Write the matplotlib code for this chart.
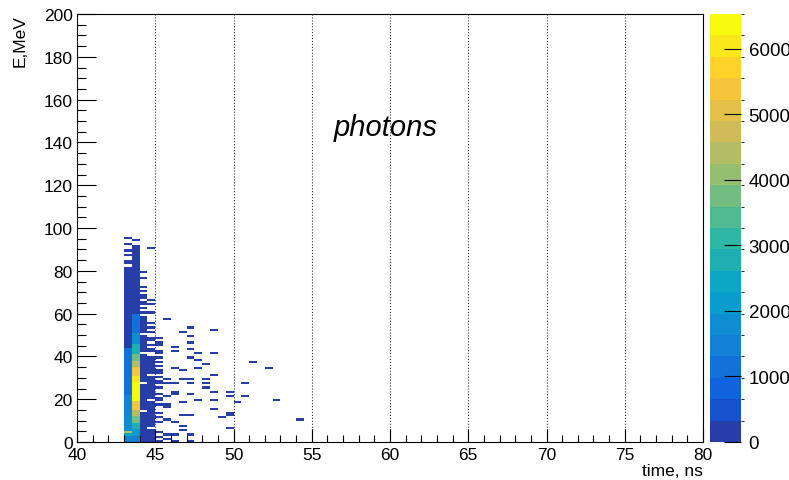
import numpy as np
import matplotlib.pyplot as plt
from matplotlib.colors import ListedColormap, BoundaryNorm, LinearSegmentedColormap

plt.rcParams['font.family'] = ['Liberation Sans', 'DejaVu Sans']

# histogram binning: time 40..80 ns in 0.5 ns bins, E 0..200 MeV in 1 MeV bins
t_min, t_max, t_step = 40.0, 80.0, 0.5
e_min, e_max, e_step = 0, 200, 1

# dense columns: (E low, E high, counts) per time bin
col_430 = [(0, 3, 1500), (3, 4, 2600), (4, 5, 4300), (5, 12, 1700), (12, 22, 1400),
           (22, 44, 1000), (44, 81, 220), (81, 82, 60), (83, 84, 60), (84, 85, 40),
           (87, 88, 60), (89, 90, 40), (92, 93, 60), (95, 96, 30)]
col_435 = [(0, 3, 1500), (3, 6, 2200), (6, 9, 2800), (9, 12, 3700), (12, 15, 4500),
           (15, 19, 5500), (19, 24, 6300), (24, 28, 6534), (28, 31, 6200), (31, 35, 5500),
           (35, 38, 4300), (38, 41, 3700), (41, 46, 2800), (46, 51, 1800), (51, 60, 1100),
           (60, 92, 260), (94, 95, 80)]
col_440 = [(0, 14, 180), (15, 27, 160), (28, 41, 140), (42, 50, 110), (51, 59, 80),
           (60, 61, 30), (62, 63, 30), (64, 65, 20), (65, 66, 30), (67, 68, 20),
           (68, 69, 30), (70, 71, 20), (72, 73, 30), (76, 77, 20), (79, 80, 20)]
col_445 = [(0, 6, 120), (7, 19, 100), (20, 31, 90), (32, 40, 70), (42, 43, 30),
           (43, 44, 20), (45, 46, 30), (47, 48, 20), (48, 49, 30), (51, 52, 20),
           (53, 54, 20), (55, 56, 20), (60, 61, 20), (64, 65, 20), (66, 67, 20),
           (90, 91, 30)]
dense_t = [43.0, 43.5, 44.0, 44.5]
dense_cols = [col_430, col_435, col_440, col_445]

# isolated single-count cells (time bin low edge, E bin low edge)
sparse_t = [45.0]*24 + [45.5]*9 + [46.0]*9 + [46.5]*7 + [47.0]*11 + [47.5]*4 \
    + [48.0]*4 + [48.5]*6 + [49.0] + [49.5]*5 + [50.0] + [50.5]*2 + [51.0] + [52.0] + [52.5] + [54.0]
sparse_e = [48, 46, 45, 42, 41, 39, 37, 35, 33, 32, 30, 28, 27, 25, 22, 20, 19, 17, 13, 11, 9, 4, 2, 0,
            57, 29, 27, 21, 17, 16, 10, 3, 1,
            44, 42, 34, 27, 23, 22, 9, 3, 0,
            51, 33, 29, 18, 12, 7, 5,
            53, 49, 46, 43, 39, 29, 27, 22, 12, 3, 0,
            41, 38, 34, 19,
            36, 29, 27, 25,
            52, 41, 31, 23, 19, 15,
            11,
            23, 21, 13, 12, 6,
            18,
            27, 21,
            37,
            34,
            19,
            10]
sparse_n = 40

t_edges = np.arange(t_min, t_max + t_step/2, t_step)
e_edges = np.arange(e_min, e_max + 1, e_step)
hist = np.zeros((len(e_edges) - 1, len(t_edges) - 1))

for t, runs in zip(dense_t, dense_cols):
    i = int(round((t - t_min) / t_step))
    for lo, hi, n in runs:
        hist[lo:hi, i] += n
for t, e in zip(sparse_t, sparse_e):
    i = int(round((t - t_min) / t_step))
    hist[e, i] += sparse_n

# ROOT kBird palette, 20 contour levels (colour picked like THistPainter does)
bird_r = [0.2082, 0.0592, 0.0780, 0.0232, 0.1802, 0.5301, 0.8186, 0.9956, 0.9764]
bird_g = [0.1664, 0.3599, 0.5041, 0.6419, 0.7178, 0.7492, 0.7328, 0.7862, 0.9832]
bird_b = [0.5293, 0.8684, 0.8385, 0.7914, 0.6425, 0.4662, 0.3499, 0.1968, 0.0539]
bird = LinearSegmentedColormap.from_list('bird', list(zip(bird_r, bird_g, bird_b)), N=255)
ncont = 20
idx = [min(int((k + 0.99) * 255 / ncont), 254) for k in range(ncont)]
cmap = ListedColormap([bird(j / 254) for j in idx])
zmax = hist.max()
levels = np.linspace(0, zmax, ncont + 1)
norm = BoundaryNorm(levels, ncont)

W, H = 789, 481
fig = plt.figure(figsize=(W/100, H/100), dpi=100)
ax = fig.add_axes([77/W, 1 - 443/H, (703 - 77)/W, (443 - 15)/H])
cax = fig.add_axes([710/W, 1 - 443/H, (741 - 710)/W, (443 - 15)/H])

pc = ax.pcolormesh(t_edges, e_edges, np.ma.masked_equal(hist, 0), cmap=cmap, norm=norm,
                   antialiased=False, linewidth=0)

ax.set_xlim(t_min, t_max)
ax.set_ylim(e_min, e_max)
ax.set_xticks(np.arange(40, 81, 5))
ax.set_xticks(np.arange(40, 81, 1), minor=True)
ax.set_yticks(np.arange(0, 201, 20))
ax.set_yticks(np.arange(0, 201, 5), minor=True)
ax.tick_params(axis='x', which='major', direction='in', length=9.4, width=0.8, labelsize=12.5, pad=3.5)
ax.tick_params(axis='x', which='minor', direction='in', length=4.7, width=0.8)
ax.tick_params(axis='y', which='major', direction='in', length=13.5, width=0.8, labelsize=12.5, pad=3)
ax.tick_params(axis='y', which='minor', direction='in', length=6.8, width=0.8)
ax.grid(axis='x', which='major', linestyle=':', color='#333333', linewidth=0.8)
ax.set_axisbelow(False)
for s in ax.spines.values():
    s.set_linewidth(0.8)

ax.text(59.7, 147, 'photons', fontsize=21, style='italic', ha='center', va='center')

fig.text(20/W, 1 - 15/H, 'E,MeV', rotation=90, ha='center', va='top', fontsize=12.5)
fig.text(703/W, 1 - 472/H, 'time, ns', ha='right', va='center', fontsize=12.5)

cb = fig.colorbar(pc, cax=cax, ticks=np.arange(0, 7000, 1000))
cb.outline.set_visible(False)
cax.set_yticklabels([str(v) for v in range(0, 7000, 1000)])
cax.tick_params(direction='in', length=12, width=0.8, labelsize=13.5, pad=5.5)

fig.savefig('out.png', dpi=100)
